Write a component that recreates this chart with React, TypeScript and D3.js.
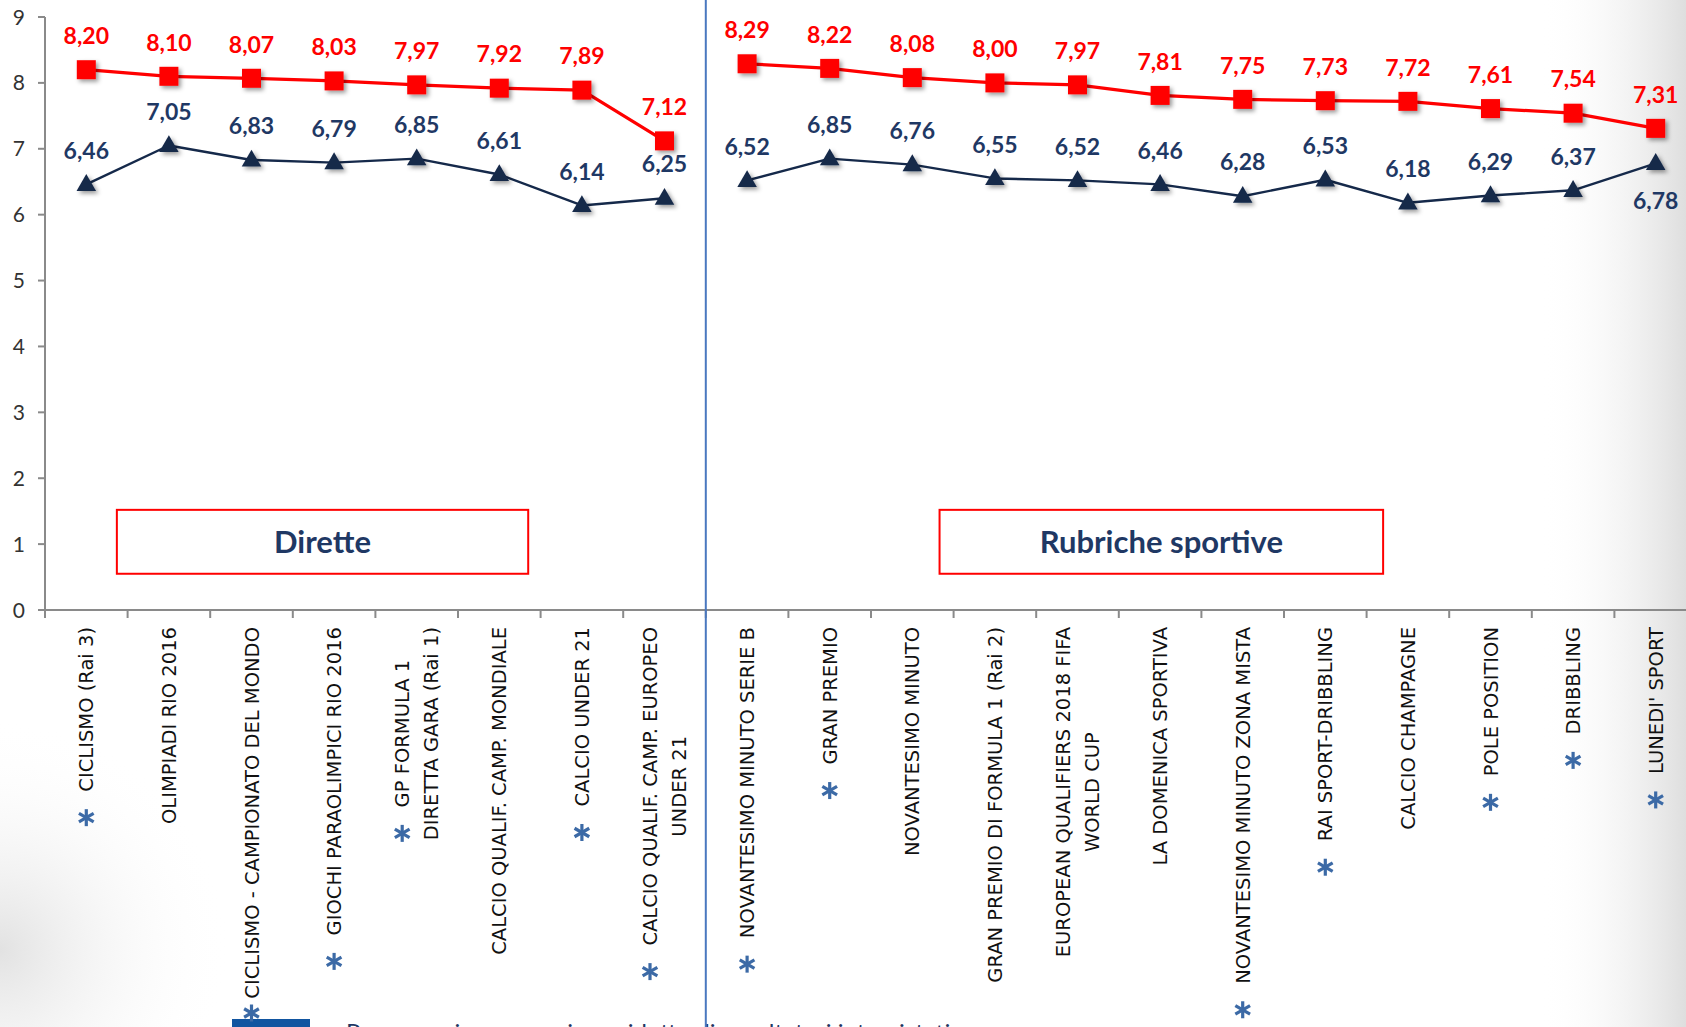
import React, { useEffect, useRef } from "react";
import * as d3 from "d3";

const W = 1686;
const H = 1027;

const categories: string[] = [
  "CICLISMO (Rai 3)",
  "OLIMPIADI RIO 2016",
  "CICLISMO - CAMPIONATO DEL MONDO",
  "GIOCHI PARAOLIMPICI RIO 2016",
  "GP FORMULA 1\nDIRETTA GARA  (Rai 1)",
  "CALCIO QUALIF. CAMP. MONDIALE",
  "CALCIO UNDER 21",
  "CALCIO QUALIF. CAMP. EUROPEO\nUNDER 21",
  "NOVANTESIMO MINUTO SERIE B",
  "GRAN PREMIO",
  "NOVANTESIMO MINUTO",
  "GRAN PREMIO DI FORMULA 1 (Rai 2)",
  "EUROPEAN QUALIFIERS 2018 FIFA\nWORLD CUP",
  "LA DOMENICA SPORTIVA",
  "NOVANTESIMO MINUTO ZONA MISTA",
  "RAI SPORT-DRIBBLING",
  "CALCIO CHAMPAGNE",
  "POLE POSITION",
  "DRIBBLING",
  "LUNEDI' SPORT",
];

const groupNames: string[] = ["Dirette", "Rubriche sportive"];
const groupSizes: number[] = [8, 12];

const redValues: number[] = [
  8.2, 8.1, 8.07, 8.03, 7.97, 7.92, 7.89, 7.12,
  8.29, 8.22, 8.08, 8.0, 7.97, 7.81, 7.75, 7.73, 7.72, 7.61, 7.54, 7.31,
];

const navyValues: number[] = [
  6.46, 7.05, 6.83, 6.79, 6.85, 6.61, 6.14, 6.25,
  6.52, 6.85, 6.76, 6.55, 6.52, 6.46, 6.28, 6.53, 6.18, 6.29, 6.37, 6.78,
];

const starred: boolean[] = [
  true, false, true, true, true, false, true, true,
  true, true, false, false, false, false, true, true, false, true, true, true,
];

const yTicks: number[] = [0, 1, 2, 3, 4, 5, 6, 7, 8, 9];

const footnote = "• Programmi con campione ridotto di ascoltatori intervistati";

const RED = "#ff0000";
const NAVY = "#15294a";
const NAVY_TEXT = "#1f3864";
const AXIS = "#8a8a8a";
const STAR = "#3c6aa6";

export default function App() {
  const ref = useRef<SVGSVGElement | null>(null);

  useEffect(() => {
    const svg = d3.select(ref.current);
    svg.selectAll("*").remove();

    const left = 45;
    const step = 82.6;
    const x = d3
      .scaleBand<number>()
      .domain(d3.range(categories.length))
      .range([left, left + step * categories.length])
      .padding(0);
    const cx = (i: number) => (x(i) as number) + x.bandwidth() / 2;
    const y = d3.scaleLinear().domain([0, 9]).range([610, 17]);
    const fmt = (v: number) => d3.format(".2f")(v).replace(".", ",");

    const defs = svg.append("defs");
    const lg = defs
      .append("linearGradient")
      .attr("id", "rightShade")
      .attr("x1", 0)
      .attr("x2", 1)
      .attr("y1", 0)
      .attr("y2", 0);
    lg.append("stop").attr("offset", "0%").attr("stop-color", "#ffffff").attr("stop-opacity", 0);
    lg.append("stop").attr("offset", "100%").attr("stop-color", "#dedede").attr("stop-opacity", 1);
    const rg = defs
      .append("radialGradient")
      .attr("id", "blShade")
      .attr("cx", 0.5)
      .attr("cy", 0.5)
      .attr("r", 0.5);
    rg.append("stop").attr("offset", "0%").attr("stop-color", "#e2e2e2").attr("stop-opacity", 1);
    rg.append("stop").attr("offset", "100%").attr("stop-color", "#ffffff").attr("stop-opacity", 0);
    const sh = defs
      .append("filter")
      .attr("id", "shadow")
      .attr("x", "-50%")
      .attr("y", "-50%")
      .attr("width", "200%")
      .attr("height", "200%");
    sh.append("feDropShadow")
      .attr("dx", 2.5)
      .attr("dy", 2.5)
      .attr("stdDeviation", 2)
      .attr("flood-color", "#000")
      .attr("flood-opacity", 0.4);

    // background
    svg.append("rect").attr("width", W).attr("height", H).attr("fill", "#fff");
    svg.append("rect").attr("x", 1540).attr("y", 0).attr("width", W - 1540).attr("height", H).attr("fill", "url(#rightShade)");
    svg.append("ellipse").attr("cx", 0).attr("cy", 950).attr("rx", 230).attr("ry", 230).attr("fill", "url(#blShade)");

    // footnote
    svg.append("rect").attr("x", 232).attr("y", 1019).attr("width", 78).attr("height", 20).attr("fill", "#1155a0");
    svg.append("text")
      .attr("x", 326)
      .attr("y", 1041)
      .attr("font-family", "Lato, sans-serif")
      .attr("font-size", 24)
      .attr("fill", NAVY_TEXT)
      .text(footnote);

    // y axis
    svg.append("line")
      .attr("x1", left).attr("x2", left)
      .attr("y1", y(9)).attr("y2", y(0))
      .attr("stroke", AXIS).attr("stroke-width", 2);
    const yt = svg.append("g");
    yTicks.forEach((t) => {
      yt.append("line")
        .attr("x1", left - 7).attr("x2", left)
        .attr("y1", y(t)).attr("y2", y(t))
        .attr("stroke", AXIS).attr("stroke-width", 2);
      yt.append("text")
        .attr("x", left - 20)
        .attr("y", y(t))
        .attr("dy", "0.36em")
        .attr("text-anchor", "end")
        .attr("font-family", "Lato, sans-serif")
        .attr("font-size", 21)
        .attr("fill", "#333")
        .text(String(t));
    });

    // x axis
    svg.append("line")
      .attr("x1", left).attr("x2", W)
      .attr("y1", y(0)).attr("y2", y(0))
      .attr("stroke", AXIS).attr("stroke-width", 2);
    d3.range(categories.length + 1).forEach((i) => {
      const xx = left + i * x.step();
      svg.append("line")
        .attr("x1", xx).attr("x2", xx)
        .attr("y1", y(0)).attr("y2", y(0) + 8)
        .attr("stroke", AXIS).attr("stroke-width", 2);
    });

    // group index ranges
    const starts: number[] = [];
    groupSizes.reduce((acc, n) => {
      starts.push(acc);
      return acc + n;
    }, 0);

    // divider between groups
    starts.slice(1).forEach((s) => {
      const xx = x(s) as number;
      svg.append("line")
        .attr("x1", xx).attr("x2", xx)
        .attr("y1", 0).attr("y2", H)
        .attr("stroke", "#4a78bf").attr("stroke-width", 2);
    });

    // group boxes
    const boxSpans: [number, number][] = [
      [0.87, 5.85],
      [10.83, 16.2],
    ];
    groupNames.forEach((name, gi) => {
      const [a, b] = boxSpans[gi];
      const x0 = left + a * x.step();
      const x1 = left + b * x.step();
      const y0 = y(1.52);
      const y1 = y(0.55);
      svg.append("rect")
        .attr("x", x0).attr("y", y0)
        .attr("width", x1 - x0).attr("height", y1 - y0)
        .attr("fill", "#fff")
        .attr("stroke", RED).attr("stroke-width", 2);
      svg.append("text")
        .attr("x", (x0 + x1) / 2)
        .attr("y", (y0 + y1) / 2)
        .attr("dy", "0.36em")
        .attr("text-anchor", "middle")
        .attr("font-family", "Lato, sans-serif")
        .attr("font-weight", 700)
        .attr("font-size", 31)
        .attr("fill", NAVY_TEXT)
        .text(name);
    });

    // series lines
    const series = [
      { values: redValues, color: RED, width: 3.2, marker: "square" },
      { values: navyValues, color: NAVY, width: 2.4, marker: "triangle" },
    ];

    series.forEach((s) => {
      groupSizes.forEach((n, gi) => {
        const idx = d3.range(starts[gi], starts[gi] + n);
        const lineGen = d3
          .line<number>()
          .x((i) => cx(i))
          .y((i) => y(s.values[i]));
        svg.append("path")
          .attr("d", lineGen(idx) as string)
          .attr("fill", "none")
          .attr("stroke", s.color)
          .attr("stroke-width", s.width)
          .attr("stroke-linejoin", "round");
      });
    });

    // markers
    const sq = d3.symbol().type(d3.symbolSquare).size(19 * 19);
    const tri = d3.symbol().type(d3.symbolTriangle).size(165);
    series.forEach((s) => {
      s.values.forEach((v, i) => {
        svg.append("path")
          .attr("d", (s.marker === "square" ? sq : tri)() as string)
          .attr("transform", `translate(${cx(i)},${y(v) + (s.marker === "triangle" ? 1 : 0)})`)
          .attr("fill", s.color)
          .attr("filter", "url(#shadow)");
      });
    });

    // value labels
    redValues.forEach((v, i) => {
      svg.append("text")
        .attr("x", cx(i))
        .attr("y", y(v) - 34)
        .attr("dy", "0.36em")
        .attr("text-anchor", "middle")
        .attr("font-family", "Lato, sans-serif")
        .attr("font-weight", 700)
        .attr("font-size", 23)
        .attr("fill", RED)
        .text(fmt(v));
    });
    navyValues.forEach((v, i) => {
      const below = redValues[i] - v < 0.6;
      svg.append("text")
        .attr("x", cx(i))
        .attr("y", below ? y(v) + 37 : y(v) - 34)
        .attr("dy", "0.36em")
        .attr("text-anchor", "middle")
        .attr("font-family", "Lato, sans-serif")
        .attr("font-weight", 700)
        .attr("font-size", 23)
        .attr("fill", NAVY_TEXT)
        .text(fmt(v));
    });

    // category labels
    const labelTop = 627;
    const lineH = 29;
    const starGap = 26;
    categories.forEach((cat, i) => {
      const lines = cat.split("\n");
      const n = lines.length;
      const g = svg.append("g").attr("transform", `translate(${cx(i)},${labelTop}) rotate(-90)`);
      const texts = lines.map((ln, li) =>
        g.append("text")
          .attr("x", 0)
          .attr("y", (li - (n - 1) / 2) * lineH)
          .attr("dy", "0.36em")
          .attr("text-anchor", "middle")
          .attr("font-family", "'DejaVu Sans', Verdana, sans-serif")
          .attr("font-size", 19.5)
          .attr("fill", "#111")
          .text(ln)
      );
      const lens = texts.map((t) => (t.node() as SVGTextElement).getComputedTextLength());
      const maxLen = d3.max(lens) as number;
      texts.forEach((t) => t.attr("x", -maxLen / 2));
      if (starred[i]) {
        const sx = cx(i) + (0 - (n - 1) / 2) * lineH;
        const sy = Math.min(labelTop + maxLen / 2 + lens[0] / 2 + starGap, H - 14);
        const r = 8.5;
        const sg = svg.append("g").attr("transform", `translate(${sx},${sy})`);
        [90, 30, 150].forEach((deg) => {
          const a = (deg * Math.PI) / 180;
          sg.append("line")
            .attr("x1", -r * Math.cos(a)).attr("y1", -r * Math.sin(a))
            .attr("x2", r * Math.cos(a)).attr("y2", r * Math.sin(a))
            .attr("stroke", STAR).attr("stroke-width", 3.2);
        });
      }
    });
  }, []);

  return (
    <div style={{ position: "absolute", left: 0, top: 0, width: W, height: H, overflow: "hidden" }}>
      <svg ref={ref} width={W} height={H} style={{ display: "block" }} />
    </div>
  );
}
